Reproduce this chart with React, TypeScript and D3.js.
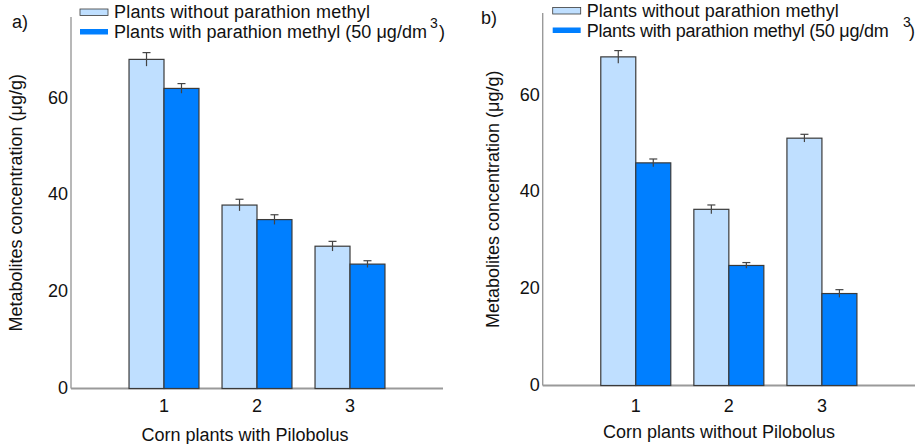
import React from "react";
import * as d3 from "d3";

// Sample groups on the x axis
const groups = ["1", "2", "3"];
const yTicks = [0, 20, 40, 60];

// Panel a: corn plants with Pilobolus
const aWithout = [68.0, 37.9, 29.4];
const aWithoutErr = [1.4, 1.2, 1.0];
const aWith = [62.0, 34.9, 25.7];
const aWithErr = [1.0, 1.0, 0.7];

// Panel b: corn plants without Pilobolus
const bWithout = [67.9, 36.4, 51.1];
const bWithoutErr = [1.3, 0.9, 0.8];
const bWith = [46.0, 24.8, 19.0];
const bWithErr = [0.8, 0.6, 0.8];

const seriesNames = [
  "Plants without parathion methyl",
  "Plants with parathion methyl (50 \u03bcg/dm",
];

const LIGHT = "#bfdfff";
const DARK = "#007fff";
const OUTLINE = "#3a3a3a";
const AXIS = "#9a9a9a";
const FONT = "'Liberation Sans', Arial, sans-serif";

type PanelProps = {
  tag: string;
  xTitle: string;
  without: number[];
  withoutErr: number[];
  withV: number[];
  withErr: number[];
  axisX: number;
  axisEnd: number;
  baseline: number;
  top: number;
  tagX: number;
  tagY: number;
  legX: number;
  legY: number;
  leg1Len: number;
  leg2Len: number;
  supX: number;
  parenX: number;
  tickDy: number;
  titleX: number;
  yTitleX: number;
};

function Panel(p: PanelProps) {
  const yMax = (p.baseline - p.top) / 4.84;
  const y = d3.scaleLinear().domain([0, yMax]).range([p.baseline, p.top]);
  const x = d3.scaleLinear().domain([0, groups.length + 1]).range([p.axisX, p.axisEnd]);
  const step = x(1) - x(0);
  const bw = step * 0.376;

  const bars: { cx: number; v: number; e: number; fill: string }[] = [];
  groups.forEach((g, i) => {
    const c = x(i + 1);
    bars.push({ cx: c - bw / 2, v: p.without[i], e: p.withoutErr[i], fill: LIGHT });
    bars.push({ cx: c + bw / 2, v: p.withV[i], e: p.withErr[i], fill: DARK });
  });

  const midY = (p.top + p.baseline) / 2;
  const textX = p.legX + 34;

  return (
    <g fontFamily={FONT} fill="#111">
      <text x={p.tagX} y={p.tagY} fontSize={18}>{p.tag}</text>

      {/* legend */}
      <rect x={p.legX} y={p.legY - 8} width={28} height={6.5} fill={LIGHT} stroke={OUTLINE} strokeWidth={0.8} />
      <rect x={p.legX} y={p.legY + 12} width={28} height={5.5} fill={DARK} stroke="none" />
      <text x={textX} y={p.legY + 1} fontSize={18} textLength={p.leg1Len} lengthAdjust="spacing">
        {seriesNames[0]}
      </text>
      <text x={textX} y={p.legY + 21} fontSize={18} textLength={p.leg2Len} lengthAdjust="spacing">
        {seriesNames[1]}
      </text>
      <text x={p.supX} y={p.legY + 11} fontSize={14}>3</text>
      <text x={p.parenX} y={p.legY + 21} fontSize={18}>)</text>

      {/* axes */}
      <line x1={p.axisX} x2={p.axisX} y1={p.top} y2={p.baseline} stroke={AXIS} strokeWidth={1.4} />
      <line x1={p.axisX} x2={p.axisEnd} y1={p.baseline} y2={p.baseline} stroke={AXIS} strokeWidth={1.8} />

      {yTicks.map((t) => (
        <text key={t} x={p.axisX - 3} y={y(t) + 5.5} fontSize={18} textAnchor="end">{t}</text>
      ))}
      {groups.map((g, i) => (
        <text key={g} x={x(i + 1)} y={p.baseline + p.tickDy} fontSize={18} textAnchor="middle">{g}</text>
      ))}

      {/* bars */}
      {bars.map((b, i) => (
        <g key={i}>
          <rect
            x={b.cx - bw / 2}
            y={y(b.v)}
            width={bw}
            height={p.baseline - y(b.v)}
            fill={b.fill}
            stroke={OUTLINE}
            strokeWidth={1.2}
          />
          <line x1={b.cx} x2={b.cx} y1={y(b.v - b.e)} y2={y(b.v + b.e)} stroke="#444" strokeWidth={1.2} />
          <line x1={b.cx - 4} x2={b.cx + 4} y1={y(b.v + b.e)} y2={y(b.v + b.e)} stroke="#444" strokeWidth={1.2} />
        </g>
      ))}

      <text x={p.titleX} y={p.baseline + 52} fontSize={18} textAnchor="middle">{p.xTitle}</text>
      <text
        transform={`translate(${p.yTitleX},${midY}) rotate(-90)`}
        fontSize={18}
        textAnchor="middle"
      >
        Metabolites concentration ({"\u03bc"}g/g)
      </text>
    </g>
  );
}

export default function App() {
  return (
    <svg
      width={921}
      height={444}
      style={{ position: "absolute", left: 0, top: 0, background: "#fff" }}
    >
      <Panel
        tag="a)"
        xTitle="Corn plants with Pilobolus"
        without={aWithout}
        withoutErr={aWithoutErr}
        withV={aWith}
        withErr={aWithErr}
        axisX={71}
        axisEnd={443}
        baseline={388.5}
        top={17}
        tagX={12}
        tagY={28}
        legX={80}
        legY={17}
        leg1Len={256}
        leg2Len={313}
        supX={430}
        parenX={439}
        tickDy={23.5}
        titleX={245}
        yTitleX={22}
      />
      <Panel
        tag="b)"
        xTitle="Corn plants without Pilobolus"
        without={bWithout}
        withoutErr={bWithoutErr}
        withV={bWith}
        withErr={bWithErr}
        axisX={542.7}
        axisEnd={915}
        baseline={385.5}
        top={13}
        tagX={481}
        tagY={24}
        legX={552.7}
        legY={15.5}
        leg1Len={252}
        leg2Len={302}
        supX={903}
        parenX={909}
        tickDy={26}
        titleX={719}
        yTitleX={499}
      />
    </svg>
  );
}
